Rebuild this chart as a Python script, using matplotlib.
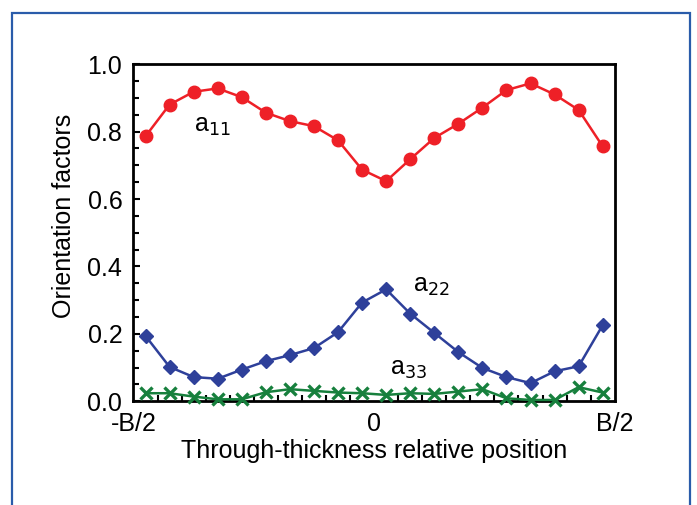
import numpy as np
import matplotlib.pyplot as plt
from matplotlib.patches import Rectangle
from matplotlib.ticker import MultipleLocator

plt.rcParams['font.family'] = ['Liberation Sans', 'DejaVu Sans']

# Through-thickness positions (fraction of B) and orientation factors
pos = [-0.475, -0.425, -0.375, -0.325, -0.275, -0.225, -0.175, -0.125, -0.075, -0.025,
       0.025, 0.075, 0.125, 0.175, 0.225, 0.275, 0.325, 0.375, 0.425, 0.475]
a11 = [0.786, 0.880, 0.918, 0.928, 0.902, 0.856, 0.831, 0.816, 0.774, 0.687,
       0.653, 0.718, 0.781, 0.823, 0.871, 0.923, 0.943, 0.910, 0.864, 0.756]
a22 = [0.194, 0.102, 0.072, 0.067, 0.094, 0.119, 0.137, 0.158, 0.205, 0.293,
       0.332, 0.260, 0.203, 0.146, 0.099, 0.072, 0.054, 0.089, 0.104, 0.226]
a33 = [0.024, 0.024, 0.014, 0.006, 0.006, 0.027, 0.036, 0.031, 0.026, 0.024,
       0.019, 0.024, 0.022, 0.029, 0.036, 0.009, 0.004, 0.004, 0.042, 0.026]

xticks = [-0.5, 0, 0.5]
xtick_labels = ['-B/2', '0', 'B/2']

fig = plt.figure(figsize=(6.97, 5.05), dpi=100)
ax = fig.add_axes([0.1915, 0.2053, 0.6905, 0.6677])

# blue frame around the figure
fig.patches.append(Rectangle((12 / 697, -0.05), 678 / 697, 1.05 - 13 / 505,
                             transform=fig.transFigure, fill=False,
                             edgecolor='#2a5caa', linewidth=1.6))

ax.plot(pos, a11, color='#ee2027', marker='o', markersize=9, linewidth=1.8,
        clip_on=False, zorder=3)
ax.plot(pos, a22, color='#2e409a', marker='D', markersize=7.5, linewidth=1.8,
        clip_on=False, zorder=3)
ax.plot(pos, a33, color='#17803d', marker='x', markersize=9, markeredgewidth=2.4,
        linewidth=1.8, clip_on=False, zorder=3)

ax.text(-0.374, 0.80, 'a$_{11}$', fontsize=18)
ax.text(0.08, 0.325, 'a$_{22}$', fontsize=18)
ax.text(0.033, 0.08, 'a$_{33}$', fontsize=18)

ax.set_xlim(-0.5, 0.5)
ax.set_ylim(0, 1.0)
ax.set_xticks(xticks)
ax.set_xticklabels(xtick_labels)
ax.set_yticks([0, 0.2, 0.4, 0.6, 0.8, 1.0])
ax.set_yticklabels(['0.0', '0.2', '0.4', '0.6', '0.8', '1.0'])
ax.xaxis.set_minor_locator(MultipleLocator(0.05))
ax.yaxis.set_minor_locator(MultipleLocator(0.05))
ax.tick_params(which='both', direction='in', width=1.5, labelsize=18, pad=8)
ax.tick_params(which='major', length=0)
ax.tick_params(which='minor', length=4)
ax.tick_params(axis='y', which='major', length=5)

for s in ax.spines.values():
    s.set_linewidth(2)

ax.set_xlabel('Through-thickness relative position', fontsize=18, labelpad=2)
ax.set_ylabel('Orientation factors', fontsize=18)
ax.yaxis.set_label_coords(-0.12, 0.55)

fig.savefig('out.png', dpi=100)
